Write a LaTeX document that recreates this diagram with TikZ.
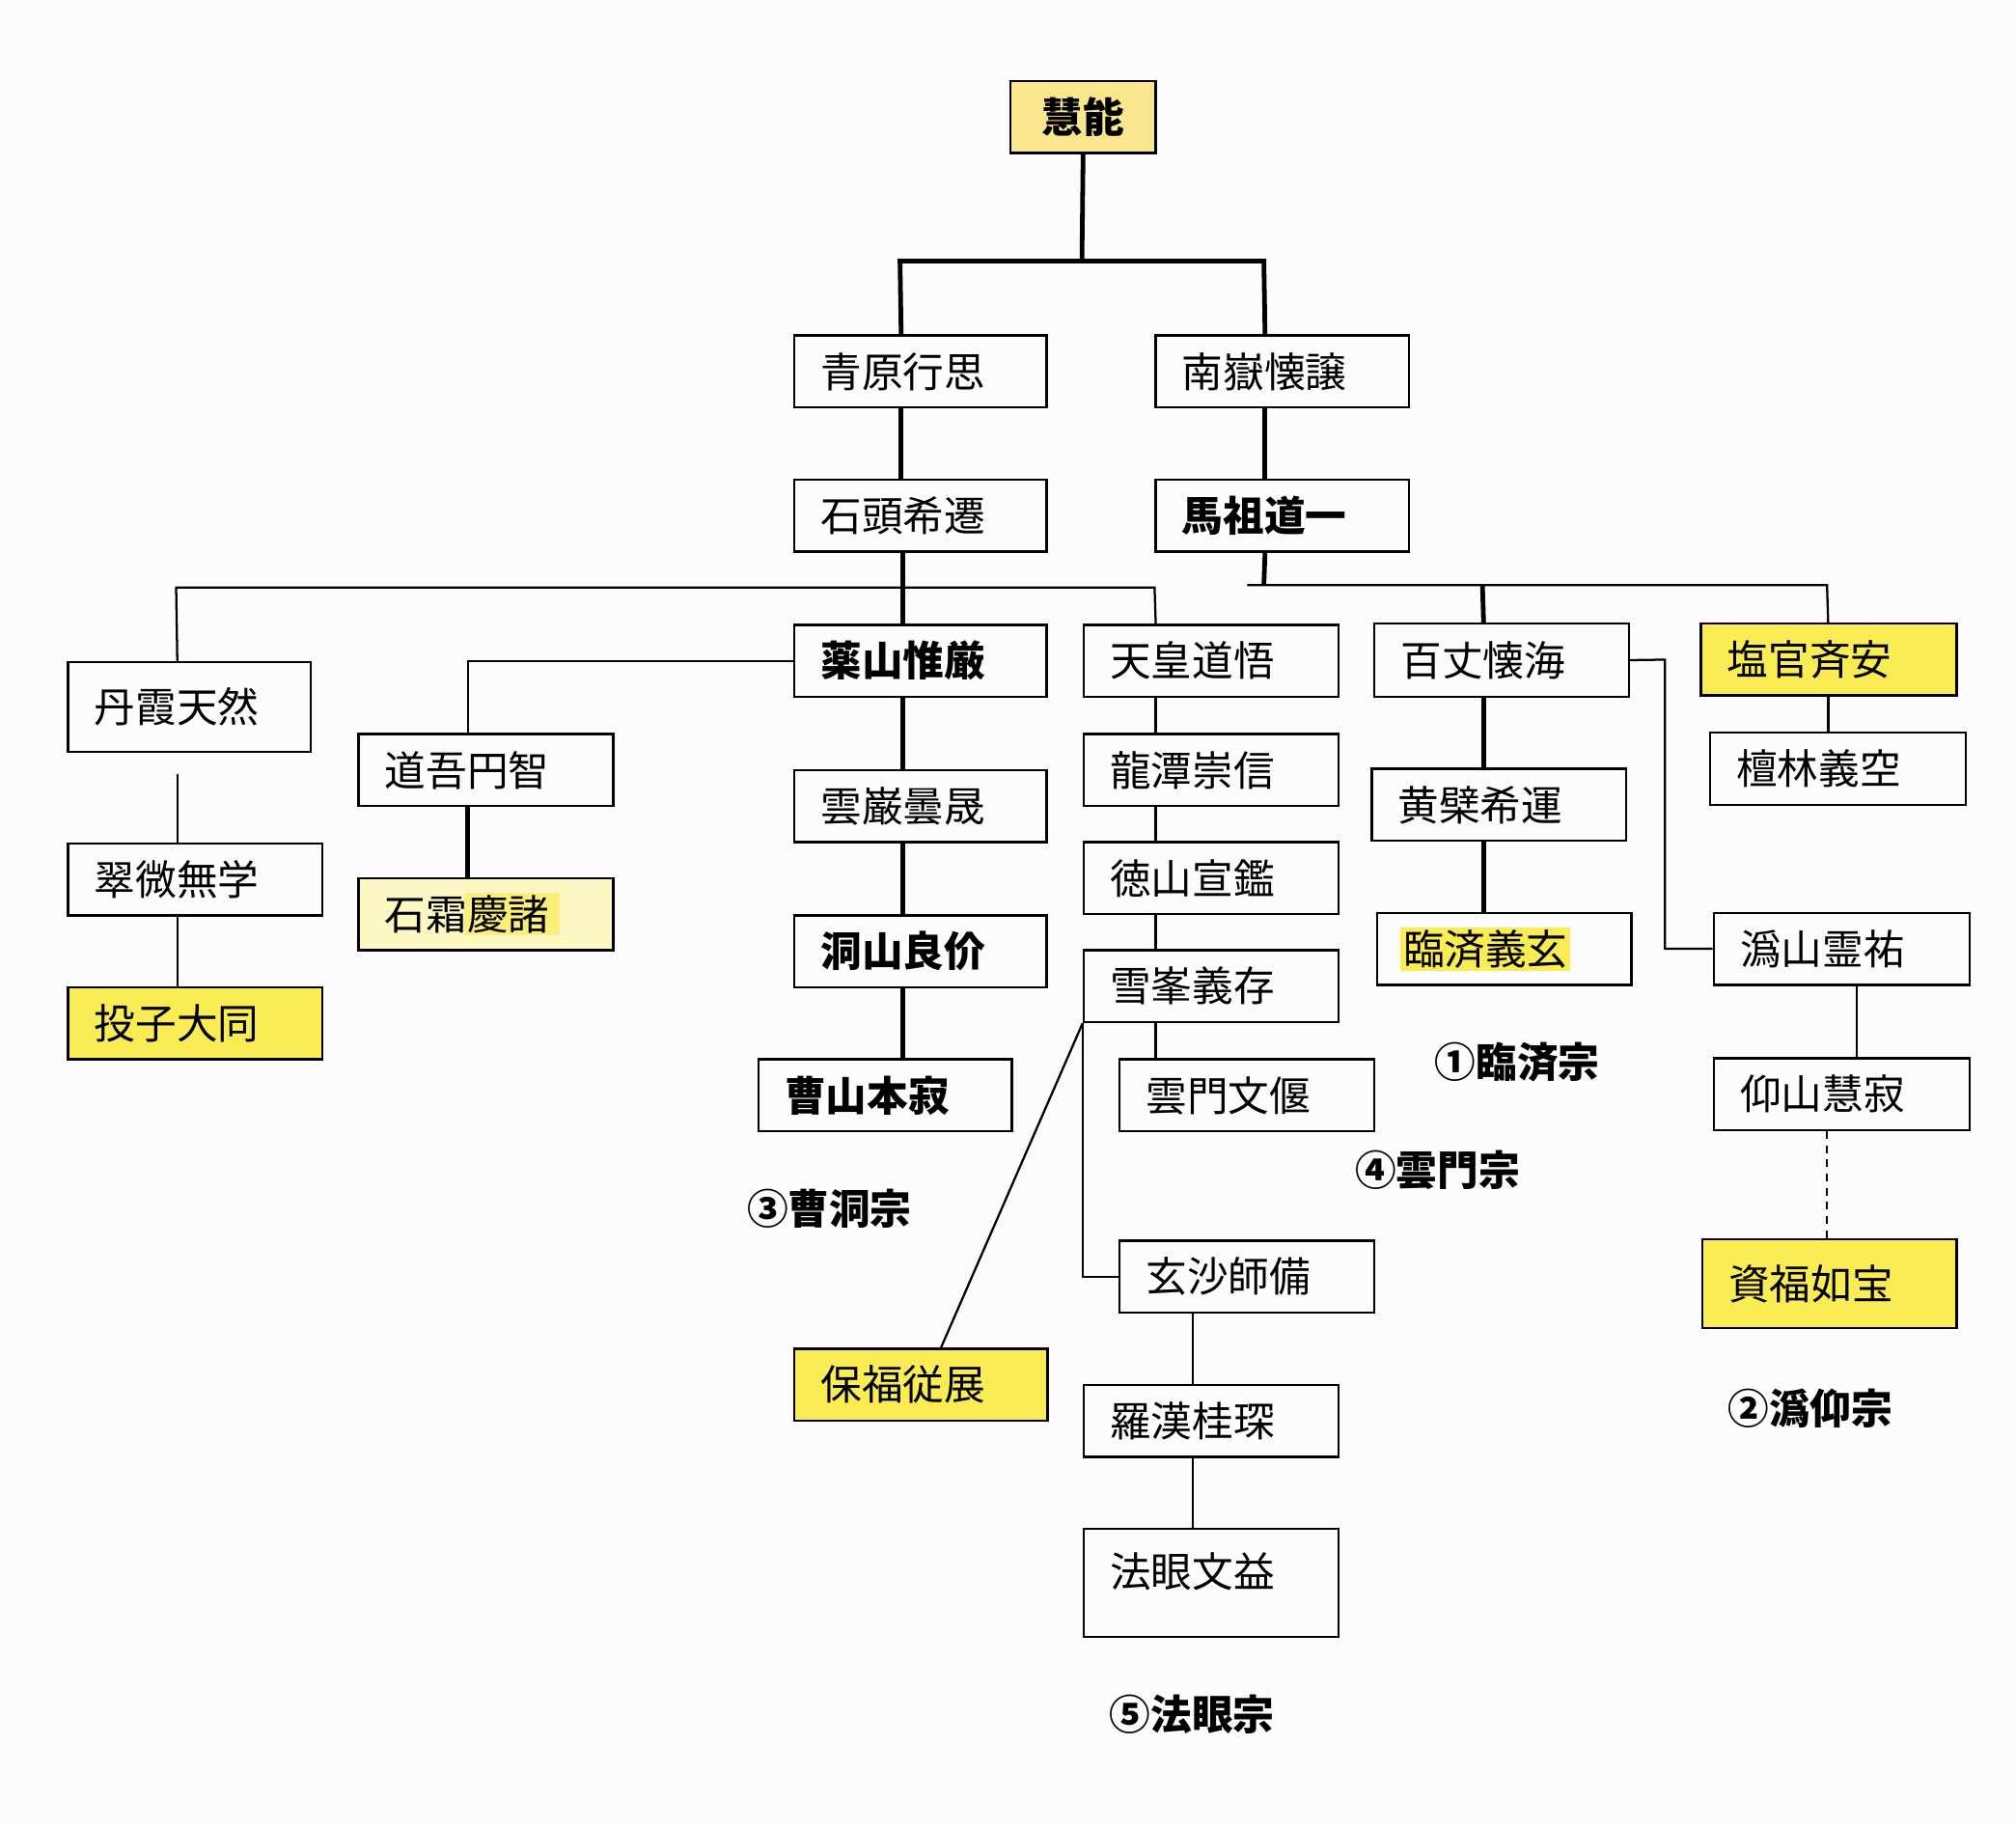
\documentclass[tikz,border=0pt]{standalone}
\usepackage{fontspec}
\newfontfamily\jp{Noto Sans CJK JP}
\definecolor{yel}{HTML}{F9EC55}
\definecolor{gold}{HTML}{FAE68C}
\definecolor{pale}{HTML}{FDF7C4}
\definecolor{yel2}{HTML}{F9EF7A}
\definecolor{bgc}{HTML}{FDFBFD}
\setlength{\fboxsep}{2pt}
\begin{document}
\begin{tikzpicture}[x=1pt,y=-1pt,
  bx/.style={draw, line width=1.8pt, anchor=north west, inner xsep=20.5pt, inner ysep=0pt,
    align=left, font=\jp\fontsize{32}{32}\selectfont, minimum height=56pt},
  bb/.style={font=\jp\bfseries\fontsize{32}{32}\selectfont},
  thk/.style={line width=3.6pt},
  thn/.style={line width=1.7pt},
  dsh/.style={line width=1.7pt, dash pattern=on 6pt off 5pt},
  lbl/.style={font=\jp\bfseries\fontsize{32}{32}\selectfont, inner sep=0pt}]
\fill[bgc] (0,0) rectangle (1568,1421);
\useasboundingbox (0,0) rectangle (1568,1421);

% nodes
\node[bx, bb, fill=gold, text width=72pt, align=center] (eno) at (785,62) {慧能};
\node[bx, text width=155pt] (seigen) at (617,260) {青原行思};
\node[bx, text width=156pt] (nangaku) at (898,260) {南嶽懐譲};
\node[bx, text width=155pt] (sekito) at (617,372) {石頭希遷};
\node[bx, bb, text width=156pt] (baso) at (898,372) {馬祖道一};

\node[bx, text width=148pt, minimum height=70pt] (tanka) at (52,514) {丹霞天然};
\node[bx, text width=157pt] (suibi) at (52,655) {翠微無学};
\node[bx, fill=yel, text width=157pt] (tosu) at (52,767) {投子大同};

\node[bx, text width=157pt] (dogo) at (278,570) {道吾円智};
\node[bx, fill=pale, text width=157pt] (sekiso) at (278,682) {石霜\kern-2pt\colorbox{yel2}{慶諸\kern6pt}};

\node[bx, bb, text width=155pt] (yakusan) at (617,485) {薬山惟厳};
\node[bx, text width=155pt] (ungan) at (617,598) {雲巌曇晟};
\node[bx, bb, text width=155pt] (tozan) at (617,711) {洞山良价};
\node[bx, bb, text width=156pt] (sozan) at (589,823) {曹山本寂};

\node[bx, text width=157pt] (tenno) at (842,485) {天皇道悟};
\node[bx, text width=157pt] (ryutan) at (842,570) {龍潭崇信};
\node[bx, text width=157pt] (tokusan) at (842,654) {徳山宣鑑};
\node[bx, text width=157pt] (seppo) at (842,738) {雪峯義存};
\node[bx, text width=157pt] (ummon) at (870,823) {雲門文偃};
\node[bx, text width=157pt] (gensha) at (870,964) {玄沙師備};
\node[bx, fill=yel, text width=156pt] (hofuku) at (617,1048) {保福従展};
\node[bx, text width=157pt] (rakan) at (842,1076) {羅漢桂琛};
\node[bx, text width=157pt, minimum height=84pt] (hogen) at (842,1188) {\raisebox{20pt}{法眼文益}};

\node[bx, text width=157pt, minimum height=57pt] (hyakujo) at (1068,484) {百丈懐海};
\node[bx, text width=157pt] (obaku) at (1066,597) {黄檗希運};
\node[bx, text width=157pt] (rinzai) at (1070,709) {\kern-2pt\colorbox{yel}{臨済義玄}};

\node[bx, fill=yel, text width=158pt] (enkan) at (1322,484) {塩官斉安};
\node[bx, text width=158pt] (danrin) at (1329,569) {檀林義空};
\node[bx, text width=158pt] (isan) at (1332,709) {潙山霊祐};
\node[bx, text width=158pt] (kyozan) at (1332,822) {仰山慧寂};
\node[bx, fill=yel, text width=157pt, minimum height=69pt] (shifuku) at (1323,963) {資福如宝};

% labels
\node[lbl] (l1) at (1180,826) {①臨済宗};
\node[lbl] (l2) at (1408,1095) {②潙仰宗};
\node[lbl] (l3) at (645,940) {③曹洞宗};
\node[lbl] (l4) at (1118,910) {④雲門宗};
\node[lbl] (l5) at (927,1333) {⑤法眼宗};

% junction coordinates
\coordinate (j1) at (841.5,203);
\coordinate (jl) at (700,203);
\coordinate (jr) at (983,203);
\coordinate (c1) at (137,457);
\coordinate (c2) at (898,457);
\coordinate (m0) at (970,455);
\coordinate (m1) at (1421,455);
\coordinate (m2) at (983,455);
\coordinate (m3) at (1153,455);
\coordinate (c5) at (1295,513);

% top tree
\draw[thk] (eno.south) -- (j1);
\draw[thk] ([xshift=-15pt]seigen.north) -- (jl) -- (jr) -- ([xshift=-13.5pt]nangaku.north);
\draw[thk] ([xshift=-15pt]seigen.south) -- ([xshift=-15pt]sekito.north);
\draw[thk] ([xshift=-13.5pt]nangaku.south) -- ([xshift=-13.5pt]baso.north);

% Sekito branch
\draw[thn] ([xshift=-9.5pt]tanka.north) -- (c1) -- (c2) -- ([xshift=-43pt]tenno.north);
\draw[thk] ([xshift=-14pt]sekito.south) -- ([xshift=-14pt]yakusan.north);
\draw[thn] ([xshift=-9.5pt,yshift=-16pt]tanka.south) -- ([xshift=-14pt]suibi.north);
\draw[thn] ([xshift=-14pt]suibi.south) -- ([xshift=-14pt]tosu.north);
\draw[thn] (yakusan.west) -| ([xshift=-14pt]dogo.north);
\draw[thk] ([xshift=-14pt]dogo.south) -- ([xshift=-14pt]sekiso.north);
\draw[thk] ([xshift=-14pt]yakusan.south) -- ([xshift=-14pt]ungan.north);
\draw[thk] ([xshift=-14pt]ungan.south) -- ([xshift=-14pt]tozan.north);
\draw[thk] ([xshift=-14pt]tozan.south) -- ([xshift=13.5pt]sozan.north);

\draw[thn] ([xshift=-43pt]tenno.south) -- ([xshift=-43pt]ryutan.north);
\draw[thn] ([xshift=-43pt]ryutan.south) -- ([xshift=-43pt]tokusan.north);
\draw[thn] ([xshift=-43pt]tokusan.south) -- ([xshift=-43pt]seppo.north);
\draw[thn] ([xshift=-43pt]seppo.south) -- ([xshift=-71pt]ummon.north);
\draw[thn] (seppo.south west) |- (gensha.west);
\draw[thn] (seppo.south west) -- ([xshift=15.5pt]hofuku.north);
\draw[thn] ([xshift=-42pt]gensha.south) -- ([xshift=-14pt]rakan.north);
\draw[thn] ([xshift=-14pt]rakan.south) -- ([xshift=-14pt]hogen.north);

% Baso branch
\draw[thk] ([xshift=-13.5pt]baso.south) -- (m2);
\draw[thn] (m0) -- (m1) -- ([xshift=-0.5pt]enkan.north);
\draw[thk] (m3) -- ([xshift=-14pt]hyakujo.north);
\draw[thk] ([xshift=-14pt]hyakujo.south) -- ([xshift=-12pt]obaku.north);
\draw[thk] ([xshift=-12pt]obaku.south) -- ([xshift=-16pt]rinzai.north);
\draw[thn] (hyakujo.east) -- (c5) |- (isan.west);
\draw[thn] ([xshift=-0.5pt]enkan.south) -- ([xshift=-7.5pt]danrin.north);
\draw[thn] ([xshift=11.5pt]isan.south) -- ([xshift=11.5pt]kyozan.north);
\draw[dsh] ([xshift=-11.5pt]kyozan.south) -- ([xshift=-2pt]shifuku.north);
\end{tikzpicture}
\end{document}
